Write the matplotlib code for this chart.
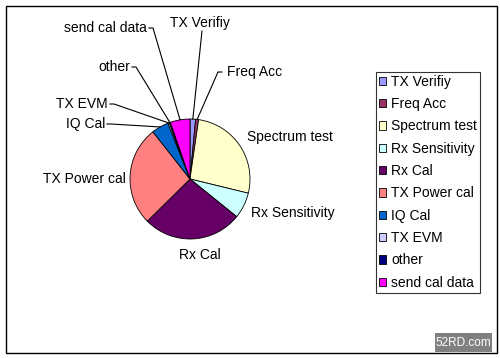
import numpy as np
import matplotlib
matplotlib.use("Agg")
import matplotlib.pyplot as plt
from matplotlib.patches import Rectangle

plt.rcParams['font.family'] = ['Liberation Sans', 'DejaVu Sans']

labels = ['TX Verifiy', 'Freq Acc', 'Spectrum test', 'Rx Sensitivity', 'Rx Cal',
          'TX Power cal', 'IQ Cal', 'TX EVM', 'other', 'send cal data']
values = [1.5, 0.8, 26.5, 7.0, 26.8, 26.8, 4.6, 0.4, 0.3, 5.3]
colors = ['#9999FF', '#993366', '#FFFFCC', '#CCFFFF', '#660066',
          '#FF8080', '#0066CC', '#CCCCFF', '#000080', '#FF00FF']

# label layout in pixel coords: (x, y, ha, leader start or None)
W, H = 500, 358
label_pos = {
    'TX Verifiy':     (170, 23, 'left', (202, 31)),
    'Freq Acc':       (227, 72, 'left', (222, 72)),
    'Spectrum test':  (247, 137, 'left', None),
    'Rx Sensitivity': (251, 213, 'left', None),
    'Rx Cal':         (200, 255, 'center', None),
    'TX Power cal':   (126, 179, 'right', None),
    'IQ Cal':         (105, 124, 'right', (107, 124)),
    'TX EVM':         (108, 104, 'right', (110, 104)),
    'other':          (130, 67, 'right', (132, 67)),
    'send cal data':  (147, 28, 'right', (149, 28)),
}

cx, cy, r = 190, H - 179, 60

fig = plt.figure(figsize=(5, 3.58), dpi=100)
ax = fig.add_axes([0, 0, 1, 1])
wedges, _ = ax.pie(values, colors=colors, startangle=90, counterclock=False,
                   center=(cx, cy), radius=r,
                   wedgeprops=dict(edgecolor='black', linewidth=0.6))
ax.set_xlim(0, W)
ax.set_ylim(0, H)
ax.set_aspect('auto')
ax.axis('off')

for w, lab in zip(wedges, labels):
    tx, ty, ha, lead = label_pos[lab]
    ax.text(tx, H - ty, lab, ha=ha, va='center', fontsize=10)
    if lead is not None:
        mid = np.deg2rad((w.theta1 + w.theta2) / 2)
        ex, ey = cx + r * np.cos(mid), cy + r * np.sin(mid)
        sx, sy = lead[0], H - lead[1]
        if lab == 'TX Verifiy':
            ax.plot([sx, ex], [sy, ey], color='black', lw=0.8)
        else:
            d = 4 if ha == 'right' else -4
            ax.plot([sx, sx + d, ex], [sy, sy, ey], color='black', lw=0.8)

leg = fig.legend(wedges, labels, loc='upper left',
                 bbox_to_anchor=(376 / W, 1 - 72 / H), borderaxespad=0,
                 fontsize=10, frameon=True, fancybox=False,
                 handlelength=0.55, handleheight=0.55, handletextpad=0.35,
                 labelspacing=0.6, borderpad=0.2)
leg.get_frame().set_edgecolor('black')
leg.get_frame().set_linewidth(0.8)

# chart frame
fig.add_artist(Rectangle((6 / W, 1 - 353 / H), 491 / W, 347 / H,
                         transform=fig.transFigure, fill=False,
                         edgecolor='black', linewidth=1))
# watermark
fig.add_artist(Rectangle((435 / W, 1 - 352 / H), 57 / W, 19 / H,
                         transform=fig.transFigure, facecolor='#808080',
                         edgecolor='none'))
fig.text(463.5 / W, 1 - 342.5 / H, '52RD.com', color='white', fontsize=8.5,
         ha='center', va='center')

fig.savefig('out.png', dpi=100)
